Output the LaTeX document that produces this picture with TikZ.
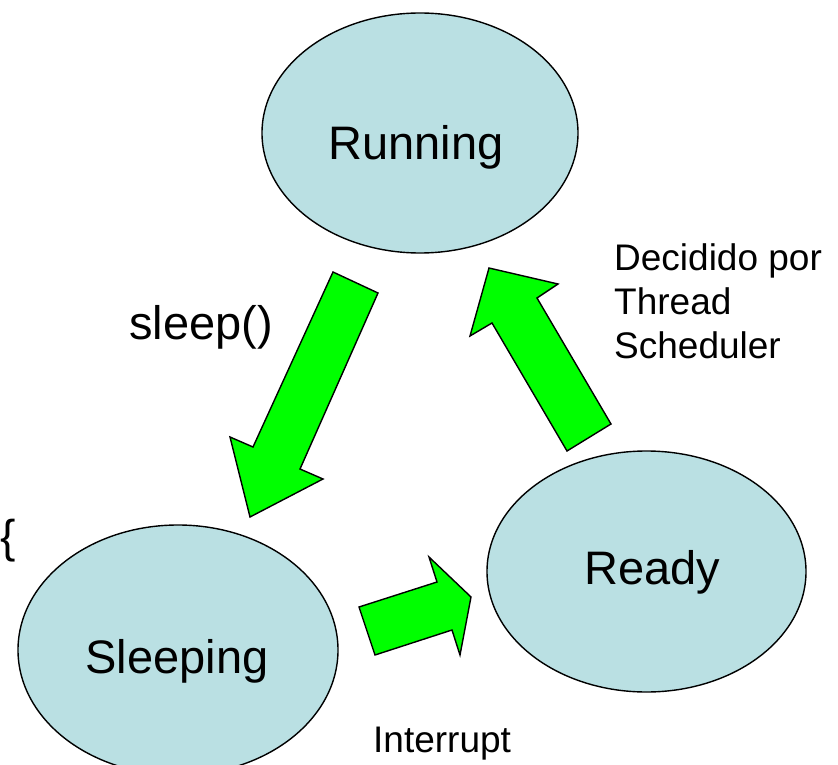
\documentclass[tikz,border=0pt]{standalone}
\usepackage{fontspec}
\setmainfont{Liberation Sans}
\usetikzlibrary{shapes.geometric}
\definecolor{statefill}{HTML}{BAE0E3}
\definecolor{arrowgreen}{HTML}{00FF00}
\begin{document}
\begin{tikzpicture}[x=1pt,y=-1pt,
  state/.style={ellipse,draw=black,line width=1.4pt,fill=statefill,inner sep=0pt},
  statetext/.style={anchor=base,font=\fontsize{47}{50}\selectfont,inner sep=0pt},
  note/.style={anchor=base west,font=\fontsize{37}{44}\selectfont,inner sep=0pt,align=left},
  blockarrow/.style={draw=black,line width=1.4pt,fill=arrowgreen,line join=miter}]
\useasboundingbox (0,0) rectangle (838,765);
\begin{scope}
\clip (0,0) rectangle (838,765);
% the three thread states
\node[state,minimum width=316pt,minimum height=240pt] (running) at (420,133) {};
\node[state,minimum width=319pt,minimum height=241pt] (ready) at (646.5,571.5) {};
\node[state,minimum width=320pt,minimum height=250pt] (sleeping) at (178,650) {};
\end{scope}
\node[statetext] (runningtext) at (416,160) {Running};
\node[statetext] (readytext) at (652,584) {Ready};
\node[statetext] (sleepingtext) at (177,673) {Sleeping};

% Running -> Sleeping
\draw[blockarrow] (333,272) -- (378,293) -- (300,469) -- (323,479) -- (250,517)
  -- (230,437) -- (253,447) -- cycle;
% Ready -> Running
\draw[blockarrow] (489,268) -- (558,284) -- (537,298) -- (611,424) -- (567,451)
  -- (492,323) -- (470,336) -- cycle;
% Sleeping -> Ready
\draw[blockarrow] (359,607) -- (437,582) -- (429,557) -- (471,597) -- (460,655)
  -- (452,630) -- (375,655) -- cycle;

% transition labels
\node[anchor=base west,font=\fontsize{47}{50}\selectfont,inner sep=0pt] (sleeplbl) at (129,339) {sleep()};
\node[note] (schedlbl) at (614,358) {Decidido por\\Thread\\Scheduler};
\node[note] (intlbl) at (373,752) {Interrupt};
\node[anchor=west,font=\fontsize{46}{50}\selectfont,inner sep=0pt] (brace) at (0,541) {\{};
\end{tikzpicture}
\end{document}
